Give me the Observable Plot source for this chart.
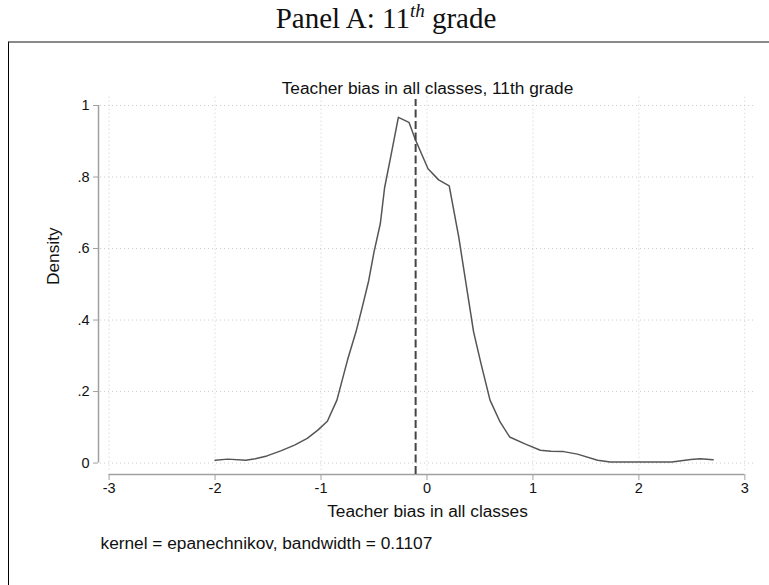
<!DOCTYPE html>
<html>
<head>
<meta charset="utf-8">
<script src="https://cdn.jsdelivr.net/npm/d3@7"></script>
<script src="https://cdn.jsdelivr.net/npm/@observablehq/plot@0.6"></script>
<style>
  html, body { margin: 0; padding: 0; background: #fff; }
  #wrap { position: relative; width: 769px; height: 585px; overflow: hidden; }
  #panel-title {
    position: absolute; left: 0; top: 0px; width: 772px; text-align: center;
    font-family: "Liberation Serif", "DejaVu Serif", serif; font-size: 29px; color: #111;
    line-height: 36px;
  }
  #panel-title sup { font-size: 19px; font-style: italic; vertical-align: 11px; line-height: 0; }
  #panel-box {
    position: absolute; left: 8px; top: 41px; width: 761px; height: 544px;
    border-top: 2px solid #8a8a8a; border-left: 1.5px solid #000; box-sizing: border-box;
    pointer-events: none;
  }
  #chart { position: absolute; left: 0; top: 0; }
</style>
</head>
<body>
<div id="wrap">
  <div id="panel-title">Panel A: 11<sup>th</sup> grade</div>
  <div id="chart"></div>
  <div id="panel-box"></div>
</div>
<script>
// Kernel density estimate of teacher bias (Epanechnikov kernel)
const biasX = [
  -2.00, -1.88, -1.71, -1.62, -1.51, -1.38, -1.25, -1.13, -1.03, -0.94,
  -0.85, -0.80, -0.75, -0.67, -0.61, -0.55, -0.50, -0.44, -0.40, -0.34,
  -0.27, -0.17, -0.11, 0.01, 0.11, 0.21, 0.30, 0.38, 0.44, 0.51,
  0.595, 0.69, 0.78, 0.93, 1.07, 1.17, 1.29, 1.42, 1.61, 1.73,
  1.99, 2.31, 2.49, 2.58, 2.70
];
const densityY = [
  0.008, 0.011, 0.008, 0.012, 0.020, 0.034, 0.050, 0.069, 0.092, 0.117,
  0.176, 0.232, 0.288, 0.367, 0.437, 0.510, 0.590, 0.670, 0.770, 0.860,
  0.967, 0.953, 0.905, 0.823, 0.792, 0.775, 0.632, 0.480, 0.367, 0.278,
  0.176, 0.115, 0.073, 0.053, 0.036, 0.033, 0.032, 0.025, 0.008, 0.003,
  0.003, 0.003, 0.010, 0.012, 0.009
];
// Mean teacher bias (dashed reference line)
const biasMean = -0.107;

const xTicks = [-3, -2, -1, 0, 1, 2, 3];
const yTicks = [0, 0.2, 0.4, 0.6, 0.8, 1];
const xTickLabels = ["-3", "-2", "-1", "0", "1", "2", "3"];
const yTickLabels = ["0", ".2", ".4", ".6", ".8", "1"];

const chartTitle = "Teacher bias in all classes, 11th grade";
const xLabel = "Teacher bias in all classes";
const yLabel = "Density";
const note = "kernel = epanechnikov, bandwidth = 0.1107";

const xDomain = [-3.1, 3.11];
const yDomain = [-0.032, 1.028];

const points = biasX.map((x, i) => ({x, y: densityY[i]}));
const xTickData = xTicks.map((v, i) => ({v, label: xTickLabels[i]}));
const yTickData = yTicks.map((v, i) => ({v, label: yTickLabels[i]}));

const sans = "'Liberation Sans', Arial, Helvetica, sans-serif";
const gridColor = "#c8c8c8";
const axisColor = "#a0a0a0";
const labelSize = 17.3;
const tickSize = 14.5;

const chart = Plot.plot({
  width: 769,
  height: 585,
  marginLeft: 98,
  marginRight: 13,
  marginTop: 95,
  marginBottom: 111,
  style: {fontFamily: sans, fontSize: "14px", color: "#111", background: "transparent"},
  x: {domain: xDomain},
  y: {domain: yDomain},
  marks: [
    // dotted grid
    Plot.ruleX(xTicks, {y1: -0.02, y2: yDomain[1], stroke: gridColor, strokeWidth: 1, strokeDasharray: "1,3"}),
    Plot.ruleY(yTicks, {x1: -3.08, x2: xDomain[1], stroke: gridColor, strokeWidth: 1, strokeDasharray: "1,3"}),
    // axis lines and tick marks
    Plot.ruleY([yDomain[0]], {x1: -3, x2: 3, stroke: axisColor, strokeWidth: 1.5}),
    Plot.ruleX([xDomain[0]], {y1: 0, y2: 1, stroke: axisColor, strokeWidth: 1.5}),
    Plot.axisX({ticks: xTicks, tickSize: 6, stroke: axisColor, tickFormat: () => "", label: null}),
    Plot.axisY({ticks: yTicks, tickSize: 5, stroke: axisColor, tickFormat: () => "", label: null}),
    // tick labels
    Plot.text(xTickData, {x: "v", text: "label", frameAnchor: "bottom", dy: 18, fontSize: tickSize, fill: "#111", fontFamily: sans}),
    Plot.text(yTickData, {y: "v", text: "label", frameAnchor: "left", textAnchor: "end", dx: -9, fontSize: tickSize, fill: "#111", fontFamily: sans}),
    // density curve
    Plot.line(points, {x: "x", y: "y", stroke: "#555", strokeWidth: 1.5}),
    // mean
    Plot.ruleX([biasMean], {y1: yDomain[0], y2: 1.017, stroke: "#444", strokeWidth: 2, strokeDasharray: "8,3.5"}),
    // titles and labels
    Plot.text([chartTitle], {frameAnchor: "top", dy: -14, fontSize: labelSize, fill: "#111", fontFamily: sans}),
    Plot.text([xLabel], {frameAnchor: "bottom", dy: 42, fontSize: labelSize, fill: "#111", fontFamily: sans}),
    Plot.text([yLabel], {frameAnchor: "left", dx: -45, rotate: -90, fontSize: labelSize, fill: "#111", fontFamily: sans}),
    Plot.text([note], {frameAnchor: "bottom-left", textAnchor: "start", dx: 2, dy: 74, fontSize: labelSize, fill: "#111", fontFamily: sans})
  ]
});
document.getElementById("chart").appendChild(chart);
</script>
</body>
</html>
